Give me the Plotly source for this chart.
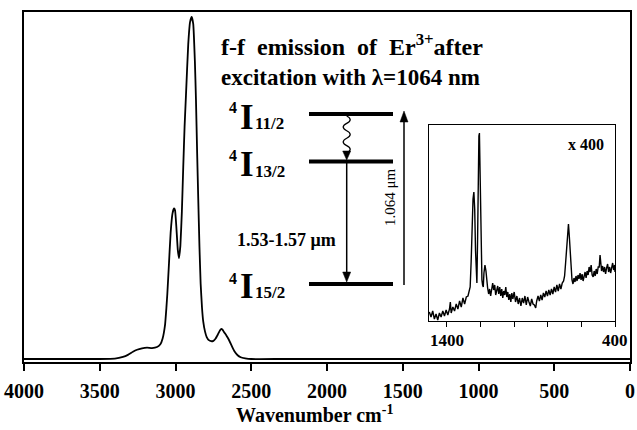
import plotly.graph_objects as go

# ---------------- data ----------------
main_wn = [4000, 3600, 3500, 3400, 3347, 3314, 3281, 3254, 3221, 3188, 3155, 3122, 3100, 3085,
           3069, 3060, 3054, 3043, 3032, 3020, 3010, 3003, 2995, 2985, 2977, 2968, 2958, 2949,
           2940, 2931, 2916, 2904, 2893, 2883, 2872, 2865, 2857, 2850, 2842, 2834, 2825, 2817,
           2805, 2794, 2780, 2765, 2750, 2735, 2720, 2706, 2697, 2690, 2680, 2667, 2655, 2640,
           2625, 2610, 2590, 2570, 2540, 2500, 2300, 1500, 0]
main_int = [0, 0, 0, 0.001, 0.006, 0.012, 0.021, 0.027, 0.031, 0.033, 0.032, 0.035, 0.043, 0.06,
            0.10, 0.15, 0.19, 0.28, 0.37, 0.425, 0.44, 0.435, 0.39, 0.32, 0.295, 0.33, 0.43, 0.56,
            0.68, 0.77, 0.92, 0.985, 1.0, 0.98, 0.87, 0.76, 0.6, 0.47, 0.33, 0.22, 0.15, 0.11,
            0.08, 0.064, 0.055, 0.052, 0.053, 0.06, 0.072, 0.084, 0.088, 0.086, 0.079, 0.071, 0.062, 0.049,
            0.035, 0.022, 0.011, 0.005, 0.002, 0, 0, 0, 0]

inset_wn = [1505, 1495, 1485, 1475, 1465, 1455, 1445, 1435, 1425, 1415, 1405, 1395, 1385, 1380,
            1375, 1365, 1355, 1345, 1335, 1325, 1315, 1305, 1295, 1285, 1275, 1268, 1262, 1256,
            1250, 1245, 1240, 1235, 1230, 1226, 1222, 1218, 1214, 1210, 1207, 1204, 1200, 1196,
            1192, 1188, 1184, 1180, 1174, 1168, 1163, 1158, 1152, 1146, 1140, 1134, 1128, 1122,
            1116, 1110, 1104, 1098, 1092, 1086, 1080, 1074, 1068, 1062, 1056, 1050, 1044, 1038,
            1032, 1026, 1020, 1014, 1008, 1000, 992, 984, 976, 968, 960, 952, 944, 936, 928, 920,
            912, 904, 896, 888, 880, 872, 866, 858, 850, 842, 834, 826, 818, 810, 802, 794, 786,
            778, 770, 762, 754, 746, 738, 730, 722, 714, 706, 700, 694, 688, 682, 677, 672, 667,
            662, 656, 650, 644, 638, 632, 626, 620, 614, 608, 602, 596, 590, 584, 578, 572, 566,
            560, 554, 548, 542, 536, 530, 524, 518, 512, 506, 500, 494, 489, 485, 480, 474, 468,
            462, 456, 450, 444, 438, 432, 426, 420, 414, 408, 402, 400]
inset_int = [9, 4, 10, 2, 7, 1, 8, 4, 10, 5, 11, 6, 12, 19,
             8, 14, 10, 17, 12, 20, 14, 23, 17, 24, 25, 30, 34, 60,
             100, 122, 129, 112, 70, 45, 38, 80, 150, 185, 188, 150, 90, 55,
             41, 36, 34, 48, 56, 50, 38, 33, 27, 32, 25, 34, 38, 31,
             36, 26, 30, 35, 27, 34, 25, 32, 23, 30, 26, 34, 24, 29,
             21, 27, 19, 28, 22, 29, 19, 25, 17, 23, 15, 23, 18, 25, 16, 24,
             19, 15, 22, 17, 16, 13, 20, 25, 20, 26, 21, 28, 24, 30, 25, 31, 26,
             32, 27, 34, 29, 36, 30, 37, 32, 38, 40, 45, 58, 70, 90, 97, 85, 70,
             50, 41, 37, 43, 39, 45, 40, 46, 42, 48, 41, 47, 40, 46, 49, 43, 50,
             46, 54, 49, 56, 46, 44, 50, 45, 52, 47, 54, 54, 66, 55, 50, 55, 49,
             54, 47, 53, 57, 49, 54, 48, 52, 58, 51, 56, 49]

main_ticks = [4000, 3500, 3000, 2500, 2000, 1500, 1000, 500, 0]
inset_ticks = [1400, 1200, 1000, 800, 600, 400]
inset_labels = ["1400", "400"]
inset_label_pos = [1400, 400]

SERIF = "Liberation Serif"

# ---------------- layout helpers (pixel -> paper) ----------------
L, R, T, B = 24, 630, 12, 362
W, H = 637, 430


def px(x):
    return (x - L) / (R - L)


def py(y):
    return (B - y) / (B - T)


fig = go.Figure()
fig.add_trace(go.Scatter(x=main_wn, y=main_int, mode="lines",
                         line=dict(color="black", width=1.8, shape="spline", smoothing=0.35),
                         hoverinfo="skip", showlegend=False))
fig.add_trace(go.Scatter(x=inset_wn, y=inset_int, mode="lines", xaxis="x2", yaxis="y2",
                         line=dict(color="black", width=1.4),
                         hoverinfo="skip", showlegend=False))

shapes = []
# energy levels
for yl in [114, 161.5, 284]:
    shapes.append(dict(type="line", xref="paper", yref="paper",
                       x0=px(309), x1=px(393), y0=py(yl), y1=py(yl),
                       line=dict(color="black", width=4)))

# wavy arrow
xw = 346.7
y0w, y1w = 116, 153
n = 5
amp = 3.5
seg = (y1w - y0w) / n
path = f"M {px(xw)},{py(y0w)}"
for i in range(n):
    sgn = 1 if i % 2 == 0 else -1
    yc = y0w + seg * (i + 0.5)
    ye = y0w + seg * (i + 1)
    path += f" Q {px(xw + 2 * sgn * amp)},{py(yc)} {px(xw)},{py(ye)}"
shapes.append(dict(type="path", xref="paper", yref="paper", path=path,
                   line=dict(color="black", width=1.3)))


def tri(xc, ytip, ybase, hw):
    return dict(type="path", xref="paper", yref="paper",
                path=f"M {px(xc)},{py(ytip)} L {px(xc - hw)},{py(ybase)} L {px(xc + hw)},{py(ybase)} Z",
                fillcolor="black", line=dict(color="black", width=0.5))


shapes.append(tri(xw, 160, 151, 4))
# straight down arrow
shapes.append(dict(type="line", xref="paper", yref="paper", x0=px(xw), x1=px(xw),
                   y0=py(163), y1=py(274), line=dict(color="black", width=1.5)))
shapes.append(tri(xw, 282, 272, 4))
# up arrow
xu = 404
shapes.append(dict(type="line", xref="paper", yref="paper", x0=px(xu), x1=px(xu),
                   y0=py(285), y1=py(120), line=dict(color="black", width=1.5)))
shapes.append(tri(xu, 111, 122, 4))

ann = []


def text(x, y, s, size, bold=True, xanchor="center", angle=0):
    ann.append(dict(x=px(x), y=py(y), xref="paper", yref="paper", text=s, showarrow=False,
                    xanchor=xanchor, yanchor="middle", textangle=angle,
                    font=dict(family=SERIF, size=size, color="black",
                              weight="bold" if bold else "normal")))


text(219, 45, "f-f\u2002emission\u2002of\u2002Er<sup>3+</sup>after", 24, xanchor="left")
text(219, 77, "excitation with λ=1064 nm", 23, xanchor="left")

for ysup, yI, ysub, sub in [(108, 117, 124, "11/2"), (155, 164, 171.5, "13/2"), (278, 286, 292, "15/2")]:
    text(233, ysup, "4", 16)
    text(247, yI, "I", 35)
    text(253, ysub, sub, 17, xanchor="left")

text(286, 240, "1.53-1.57 μm", 18)
text(390, 197, "1.064 μm", 15, bold=False, angle=-90)
text(586, 144, "x 400", 16)
text(314, 414, "Wavenumber cm<sup>-1</sup>", 20)

# inset tick labels (only first and last)
for lab, pos in zip(inset_labels, inset_label_pos):
    ann.append(dict(x=pos, y=-0.097, xref="x2", yref="y2 domain", text=lab, showarrow=False,
                    xanchor="center", yanchor="middle",
                    font=dict(family=SERIF, size=17, color="black", weight="bold")))

fig.update_layout(
    width=W, height=H,
    margin=dict(l=L, r=W - R, t=T, b=H - B, pad=0, autoexpand=False),
    paper_bgcolor="white", plot_bgcolor="white",
    shapes=shapes, annotations=ann,
    xaxis=dict(range=[4000, 0], tickvals=main_ticks, ticks="outside", ticklen=7, tickwidth=2,
               tickcolor="black", showline=True, linewidth=2, linecolor="black", mirror=True,
               showgrid=False, zeroline=False, automargin=False, ticklabelstandoff=3,
               tickfont=dict(family=SERIF, size=20, color="black", weight="bold")),
    yaxis=dict(range=[-0.0088, 1.0146], showticklabels=False, ticks="", showline=True,
               linewidth=2, linecolor="black", mirror=True, showgrid=False, zeroline=False,
               automargin=False),
    xaxis2=dict(domain=[px(429), px(615)], anchor="y2", range=[1507, 400], tickvals=inset_ticks,
                showticklabels=False, ticks="outside", ticklen=5, tickwidth=1, tickcolor="black",
                showline=True, linewidth=1, linecolor="black", mirror=True, showgrid=False,
                zeroline=False, automargin=False),
    yaxis2=dict(domain=[py(321), py(125)], anchor="x2", range=[0, 196], showticklabels=False,
                ticks="", showline=True, linewidth=1, linecolor="black", mirror=True,
                showgrid=False, zeroline=False, automargin=False),
)

fig.write_html("out.html")
